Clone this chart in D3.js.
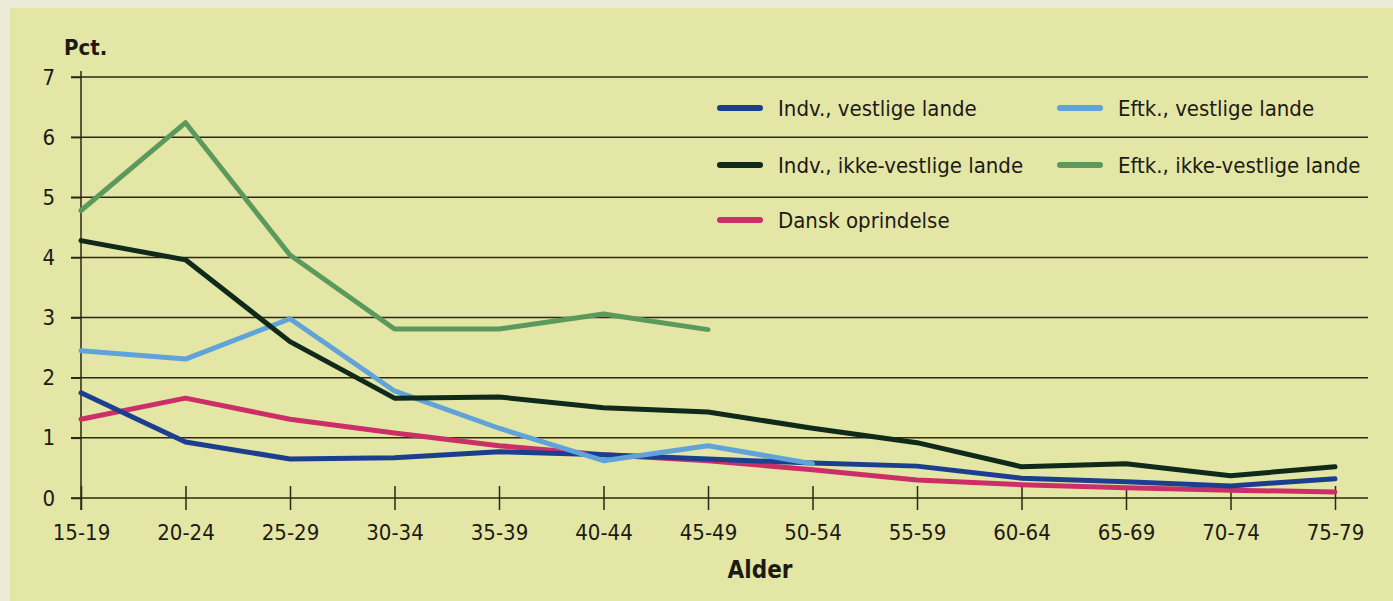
<!DOCTYPE html>
<html>
<head>
<meta charset="utf-8">
<script src="https://cdn.jsdelivr.net/npm/d3@7"></script>
<style>
  body { margin: 0; background: #ecebd8; }
  svg { display: block; }
</style>
</head>
<body>
<div id="chart"></div>
<script>
var categories = ['15-19', '20-24', '25-29', '30-34', '35-39', '40-44', '45-49',
                  '50-54', '55-59', '60-64', '65-69', '70-74', '75-79'];
var y_ticks = [0, 1, 2, 3, 4, 5, 6, 7];

var indv_vest = [1.75, 0.93, 0.65, 0.67, 0.77, 0.72, 0.65, 0.58, 0.53, 0.33, 0.27, 0.2, 0.32];
var indv_ikke = [4.28, 3.96, 2.6, 1.66, 1.68, 1.5, 1.43, 1.16, 0.92, 0.52, 0.57, 0.37, 0.52];
var eftk_vest = [2.45, 2.31, 2.98, 1.78, 1.16, 0.62, 0.87, 0.57];
var eftk_ikke = [4.78, 6.24, 4.04, 2.81, 2.81, 3.06, 2.8];
var dansk = [1.31, 1.66, 1.31, 1.08, 0.87, 0.72, 0.62, 0.47, 0.3, 0.22, 0.17, 0.13, 0.1];

var series = [
  { name: 'Dansk oprindelse', values: dansk, color: '#cc2f67' },
  { name: 'Indv., vestlige lande', values: indv_vest, color: '#1b3f8e' },
  { name: 'Eftk., vestlige lande', values: eftk_vest, color: '#5fa3d9' },
  { name: 'Indv., ikke-vestlige lande', values: indv_ikke, color: '#0f2a1a' },
  { name: 'Eftk., ikke-vestlige lande', values: eftk_ikke, color: '#5b9a5c' }
];

var chart_width = 1393;
var chart_height = 601;
var font = '"DejaVu Sans Condensed", "Liberation Sans", Arial, sans-serif';
var ink = '#2e2616';

var svg = d3.select('#chart')
      .append('svg')
      .attr('width', chart_width)
      .attr('height', chart_height);

// paper background
svg.append('rect')
   .attr('x', 10)
   .attr('y', 8)
   .attr('width', chart_width - 10)
   .attr('height', chart_height - 8)
   .attr('fill', '#e4e6a6');

// scales
var x_scale = d3.scalePoint()
        .domain(categories)
        .range([81, 1335]);

var y_scale = d3.scaleLinear()
        .domain([0, 7])
        .range([498, 77]);

// grid lines
svg.append('g')
   .selectAll('line')
   .data(y_ticks)
   .enter()
   .append('line')
   .attr('x1', 71)
   .attr('x2', 1368)
   .attr('y1', function(d) { return y_scale(d); })
   .attr('y2', function(d) { return y_scale(d); })
   .attr('stroke', ink)
   .attr('stroke-width', 1.5);

// y axis
var y_axis = d3.axisLeft(y_scale)
            .tickValues(y_ticks)
            .tickSize(10)
            .tickPadding(16)
            .tickFormat(d3.format('d'));

var y_g = svg.append('g')
   .attr('transform', 'translate(81, 0)')
   .call(y_axis);

y_g.select('.domain').attr('stroke', ink).attr('stroke-width', 1.5)
   .attr('d', 'M0,' + (y_scale(7) - 6) + 'V' + (y_scale(0) + 12));

// x axis
var x_axis = d3.axisBottom(x_scale)
            .tickSize(12)
            .tickPadding(14);

var x_g = svg.append('g')
   .attr('transform', 'translate(0, ' + y_scale(0) + ')')
   .call(x_axis);

x_g.select('.domain').remove();
x_g.selectAll('.tick line')
   .attr('y1', -12);

svg.selectAll('.tick line').attr('stroke', ink).attr('stroke-width', 1.5);
svg.selectAll('.tick text')
   .attr('font-family', font)
   .attr('font-size', 22)
   .attr('fill', '#1c1a14');

// axis titles
svg.append('text')
   .attr('x', 64)
   .attr('y', 55)
   .attr('font-family', font)
   .attr('font-weight', 'bold')
   .attr('font-size', 22)
   .attr('fill', '#1c1a14')
   .text('Pct.');

svg.append('text')
   .attr('x', 760)
   .attr('y', 578)
   .attr('text-anchor', 'middle')
   .attr('font-family', font)
   .attr('font-weight', 'bold')
   .attr('font-size', 24)
   .attr('fill', '#1c1a14')
   .text('Alder');

// lines
var line = d3.line()
      .x(function(d, i) { return x_scale(categories[i]); })
      .y(function(d) { return y_scale(d); });

svg.append('g')
   .selectAll('path')
   .data(series)
   .enter()
   .append('path')
   .attr('d', function(d) { return line(d.values); })
   .attr('fill', 'none')
   .attr('stroke', function(d) { return d.color; })
   .attr('stroke-width', 5)
   .attr('stroke-linejoin', 'round')
   .attr('stroke-linecap', 'round');

// legend
var legend_items = [
  { s: series[1], x: 718, y: 108 },
  { s: series[2], x: 1058, y: 108 },
  { s: series[3], x: 718, y: 165 },
  { s: series[4], x: 1058, y: 165 },
  { s: series[0], x: 718, y: 220 }
];

var legend = svg.append('g')
   .selectAll('g')
   .data(legend_items)
   .enter()
   .append('g')
   .attr('transform', function(d) { return 'translate(' + d.x + ',' + d.y + ')'; });

legend.append('line')
   .attr('x1', 2)
   .attr('x2', 42)
   .attr('stroke', function(d) { return d.s.color; })
   .attr('stroke-width', 6)
   .attr('stroke-linecap', 'round');

legend.append('text')
   .attr('x', 60)
   .attr('y', 8)
   .attr('font-family', font)
   .attr('font-size', 22)
   .attr('fill', '#1c1a14')
   .text(function(d) { return d.s.name; });
</script>
</body>
</html>
